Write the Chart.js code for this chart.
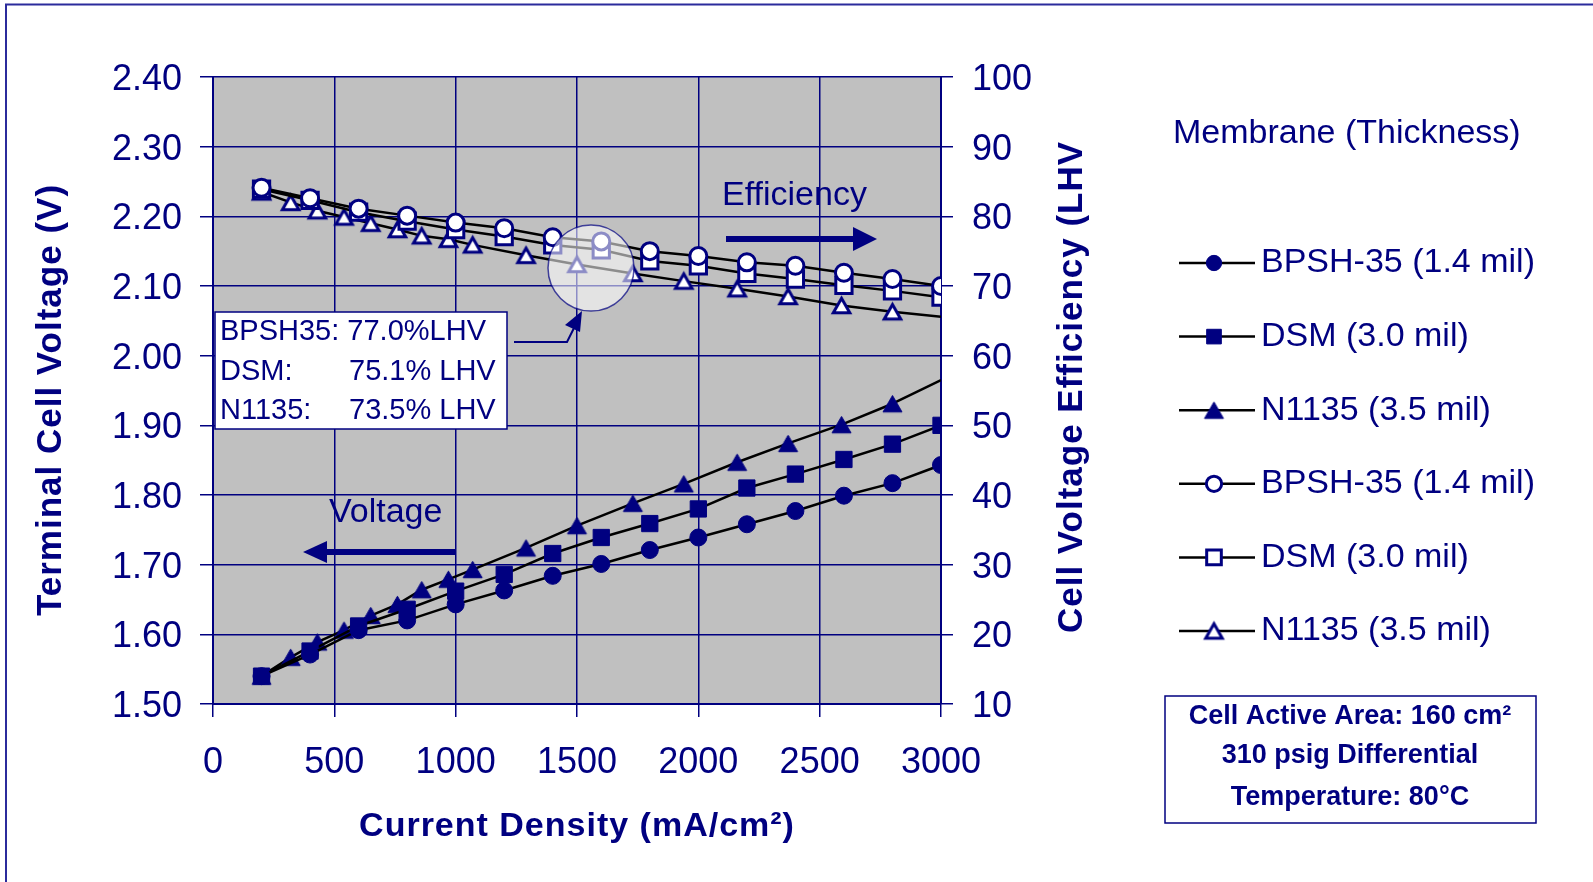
<!DOCTYPE html>
<html>
<head>
<meta charset="utf-8">
<script src="https://cdn.jsdelivr.net/npm/chart.js@4.4.1/dist/chart.umd.min.js"></script>
<style>
  html, body { margin: 0; padding: 0; background: #fff; }
  canvas { display: block; }
</style>
</head>
<body>
<canvas id="polChart" width="1593" height="882"></canvas>
<script>
// current density (mA/cm2)
const currentStd   = [200,400,600,800,1000,1200,1400,1600,1800,2000,2200,2400,2600,2800,3000];
const currentN1135 = [200,320,430,540,650,760,860,970,1070,1290,1500,1730,1940,2160,2370,2590,2800];

// terminal cell voltage (V)
const bpshVolt  = [1.540,1.571,1.606,1.620,1.643,1.663,1.684,1.701,1.721,1.739,1.758,1.777,1.799,1.817,1.843];
const dsmVolt   = [1.540,1.576,1.612,1.636,1.662,1.686,1.716,1.739,1.759,1.780,1.810,1.830,1.851,1.873,1.900];
const n1135Volt = [1.540,1.567,1.589,1.606,1.627,1.643,1.664,1.679,1.693,1.724,1.756,1.788,1.816,1.847,1.874,1.901,1.931];

// cell voltage efficiency (% LHV)
const bpshEff  = [84.1,82.6,81.1,80.1,79.1,78.3,77.0,76.4,75.0,74.3,73.4,72.9,71.9,71.0,70.0];
const dsmEff   = [83.9,82.3,80.6,79.3,78.1,77.1,75.9,75.2,73.6,72.9,71.8,71.0,70.1,69.3,68.4];
const n1135Eff = [83.5,82.0,80.8,79.9,79.0,78.1,77.2,76.7,75.9,74.4,73.1,71.8,70.7,69.6,68.5,67.2,66.3];

// N1135 fitted lines run on to 3000 mA/cm2
const n1135LineEnd = [3000];
const n1135VoltEnd = [1.965];
const n1135EffEnd  = [65.6];

const xTicks = [0,500,1000,1500,2000,2500,3000];

const NAVY = '#000080';
const FONT = '"Liberation Sans", Arial, sans-serif';

const pts = (xs, ys) => xs.map((x, i) => ({ x: x, y: ys[i] }));
const lastPt = (xs, ys) => ({ x: xs[xs.length - 1], y: ys[ys.length - 1] });

// Excel-style triangle marker, centred on its bounding box
function triangleImage(fill, lw, side) {
  const h = side * Math.sqrt(3) / 2;
  const c = document.createElement('canvas');
  c.width = Math.ceil(side + lw * 2 + 2);
  c.height = Math.ceil(h + lw * 2 + 2);
  const g = c.getContext('2d');
  const cx = c.width / 2, top = (c.height - h) / 2;
  g.beginPath();
  g.moveTo(cx, top); g.lineTo(cx + side / 2, top + h); g.lineTo(cx - side / 2, top + h);
  g.closePath();
  g.fillStyle = fill; g.fill();
  g.lineWidth = lw; g.strokeStyle = NAVY; g.stroke();
  return c;
}

function markerSet(label, xs, ys, axis, style, filled) {
  const r = style === 'rect' ? 11.5 : style === 'triangle' ? 10.5 : 8.5;
  let ps = style;
  if (style === 'triangle') ps = filled ? triangleImage(NAVY, 1, 19) : triangleImage('#fff', 3, 16.5);
  return {
    label: label, data: pts(xs, ys), yAxisID: axis, showLine: true, inLegend: true,
    borderColor: '#000', borderWidth: 2.5,
    pointStyle: ps, pointRadius: r, pointHoverRadius: r,
    pointBackgroundColor: filled ? NAVY : '#fff',
    pointBorderColor: NAVY, pointBorderWidth: filled ? 1 : 3
  };
}
function lineOnly(p0, xs, ys, axis) {
  return {
    label: '', data: [p0].concat(pts(xs, ys)), yAxisID: axis, showLine: true,
    borderColor: '#000', borderWidth: 2.5, pointRadius: 0, pointHoverRadius: 0
  };
}

const decorations = {
  id: 'decorations',
  beforeDraw(chart) {
    const { ctx, chartArea: a } = chart;
    ctx.save();
    ctx.fillStyle = '#c0c0c0';
    ctx.fillRect(a.left, a.top, a.right - a.left, a.bottom - a.top);
    ctx.strokeStyle = '#2b2b9c';
    ctx.lineWidth = 2;
    ctx.beginPath();
    ctx.moveTo(6, chart.height); ctx.lineTo(6, 4.5); ctx.lineTo(chart.width, 4.5);
    ctx.stroke();
    ctx.restore();
  },
  afterDatasetsDraw(chart) {
    // magnifier bubble over the 1500-1600 points
    const ctx = chart.ctx;
    ctx.save();
    ctx.beginPath();
    ctx.arc(591, 268, 43, 0, Math.PI * 2);
    ctx.fillStyle = 'rgba(255,255,255,0.55)';
    ctx.fill();
    ctx.strokeStyle = 'rgba(0,0,128,0.7)';
    ctx.lineWidth = 1.5;
    ctx.stroke();
    ctx.restore();
  },
  afterDraw(chart) {
    const ctx = chart.ctx;
    ctx.save();
    ctx.fillStyle = NAVY;
    ctx.strokeStyle = NAVY;

    // axis titles
    ctx.font = 'bold 34px ' + FONT;
    ctx.textAlign = 'center';
    ctx.textBaseline = 'middle';
    ctx.letterSpacing = '1px';
    ctx.fillText('Current Density (mA/cm²)', 577, 827);
    ctx.font = 'bold 35px ' + FONT;
    ctx.save(); ctx.translate(51, 400); ctx.rotate(-Math.PI / 2);
    ctx.fillText('Terminal Cell Voltage (V)', 0, 0); ctx.restore();
    ctx.save(); ctx.translate(1072, 387); ctx.rotate(-Math.PI / 2);
    ctx.fillText('Cell Voltage Efficiency (LHV', 0, 0); ctx.restore();
    ctx.letterSpacing = '0px';

    // value box + callout
    ctx.fillStyle = '#fff';
    ctx.fillRect(215, 312, 292, 117);
    ctx.lineWidth = 1.5;
    ctx.strokeRect(215, 312, 292, 117);
    ctx.fillStyle = NAVY;
    ctx.font = '29px ' + FONT;
    ctx.textAlign = 'left';
    ctx.fillText('BPSH35: 77.0%LHV', 220, 332);
    ctx.fillText('DSM:', 220, 372);
    ctx.fillText('75.1% LHV', 349, 372);
    ctx.fillText('N1135:', 220, 411);
    ctx.fillText('73.5% LHV', 349, 411);
    ctx.lineWidth = 2;
    ctx.beginPath();
    ctx.moveTo(514, 342); ctx.lineTo(567, 342); ctx.lineTo(575, 326);
    ctx.stroke();
    ctx.beginPath();
    ctx.moveTo(582, 311); ctx.lineTo(565, 325); ctx.lineTo(580, 332); ctx.closePath();
    ctx.fill();

    // direction arrows
    ctx.font = '34px ' + FONT;
    ctx.fillText('Efficiency', 722, 196);
    ctx.fillText('Voltage', 329, 513);
    ctx.fillRect(726, 236, 128, 6);
    ctx.beginPath();
    ctx.moveTo(877, 239); ctx.lineTo(853, 227); ctx.lineTo(853, 251); ctx.closePath(); ctx.fill();
    ctx.fillRect(326, 549, 129, 6);
    ctx.beginPath();
    ctx.moveTo(303, 552); ctx.lineTo(327, 541); ctx.lineTo(327, 563); ctx.closePath(); ctx.fill();

    // legend
    ctx.font = '34px ' + FONT;
    ctx.fillText('Membrane (Thickness)', 1173, 134);
    let row = 0;
    chart.data.datasets.forEach(ds => {
      if (!ds.inLegend) return;
      const y = 263 + row * 73.6;
      ctx.strokeStyle = '#000';
      ctx.lineWidth = 2.5;
      ctx.beginPath(); ctx.moveTo(1179, y); ctx.lineTo(1255, y); ctx.stroke();
      ctx.fillStyle = ds.pointBackgroundColor;
      ctx.strokeStyle = ds.pointBorderColor;
      ctx.lineWidth = ds.pointBorderWidth;
      Chart.helpers.drawPoint(ctx, { pointStyle: ds.pointStyle, radius: ds.pointRadius * 0.9, borderWidth: ds.pointBorderWidth, rotation: 0 }, 1214, y);
      ctx.fillStyle = NAVY;
      ctx.fillText(ds.label, 1261, y);
      row++;
    });

    // test conditions box
    ctx.strokeStyle = NAVY;
    ctx.lineWidth = 1.5;
    ctx.strokeRect(1165, 696, 371, 127);
    ctx.font = 'bold 27px ' + FONT;
    ctx.textAlign = 'center';
    ctx.fillText('Cell Active Area: 160 cm²', 1350, 717);
    ctx.fillText('310 psig Differential', 1350, 756);
    ctx.fillText('Temperature: 80°C', 1350, 798);
    ctx.restore();
  }
};

const tickFont = { family: FONT, size: 36 };
const gridStyle = { color: NAVY, lineWidth: 1.5, tickLength: 13 };

new Chart(document.getElementById('polChart'), {
  type: 'scatter',
  data: {
    datasets: [
      markerSet('BPSH-35 (1.4 mil)', currentStd, bpshVolt, 'y', 'circle', true),
      markerSet('DSM (3.0 mil)', currentStd, dsmVolt, 'y', 'rect', true),
      markerSet('N1135 (3.5 mil)', currentN1135, n1135Volt, 'y', 'triangle', true),
      markerSet('BPSH-35 (1.4 mil)', currentStd, bpshEff, 'y1', 'circle', false),
      markerSet('DSM (3.0 mil)', currentStd, dsmEff, 'y1', 'rect', false),
      markerSet('N1135 (3.5 mil)', currentN1135, n1135Eff, 'y1', 'triangle', false),
      lineOnly(lastPt(currentN1135, n1135Volt), n1135LineEnd, n1135VoltEnd, 'y'),
      lineOnly(lastPt(currentN1135, n1135Eff), n1135LineEnd, n1135EffEnd, 'y1')
    ]
  },
  options: {
    responsive: false, animation: false,
    layout: { padding: { top: 77, left: 0, right: 0, bottom: 0 } },
    plugins: { legend: { display: false }, tooltip: { enabled: false } },
    scales: {
      x: {
        type: 'linear', min: xTicks[0], max: xTicks[xTicks.length - 1],
        afterBuildTicks: s => { s.ticks = xTicks.map(v => ({ value: v })); },
        afterFit: s => { s.height = 178; },
        ticks: { color: NAVY, font: tickFont, padding: 24, maxRotation: 0, callback: v => String(v) },
        grid: gridStyle,
        border: { color: NAVY, width: 2 }
      },
      y: {
        position: 'left', min: 1.5, max: 2.4,
        afterFit: s => { s.width = 213; },
        ticks: { stepSize: 0.1, color: NAVY, font: tickFont, padding: 18, labelOffset: 3, callback: v => v.toFixed(2) },
        grid: gridStyle,
        border: { color: NAVY, width: 2 }
      },
      y1: {
        position: 'right', min: 10, max: 100,
        afterFit: s => { s.width = 652; },
        ticks: { stepSize: 10, color: NAVY, font: tickFont, padding: 19, labelOffset: 3 },
        grid: { color: NAVY, lineWidth: 1.5, tickLength: 12, drawOnChartArea: false },
        border: { color: NAVY, width: 2 }
      }
    }
  },
  plugins: [decorations]
});
</script>
</body>
</html>
